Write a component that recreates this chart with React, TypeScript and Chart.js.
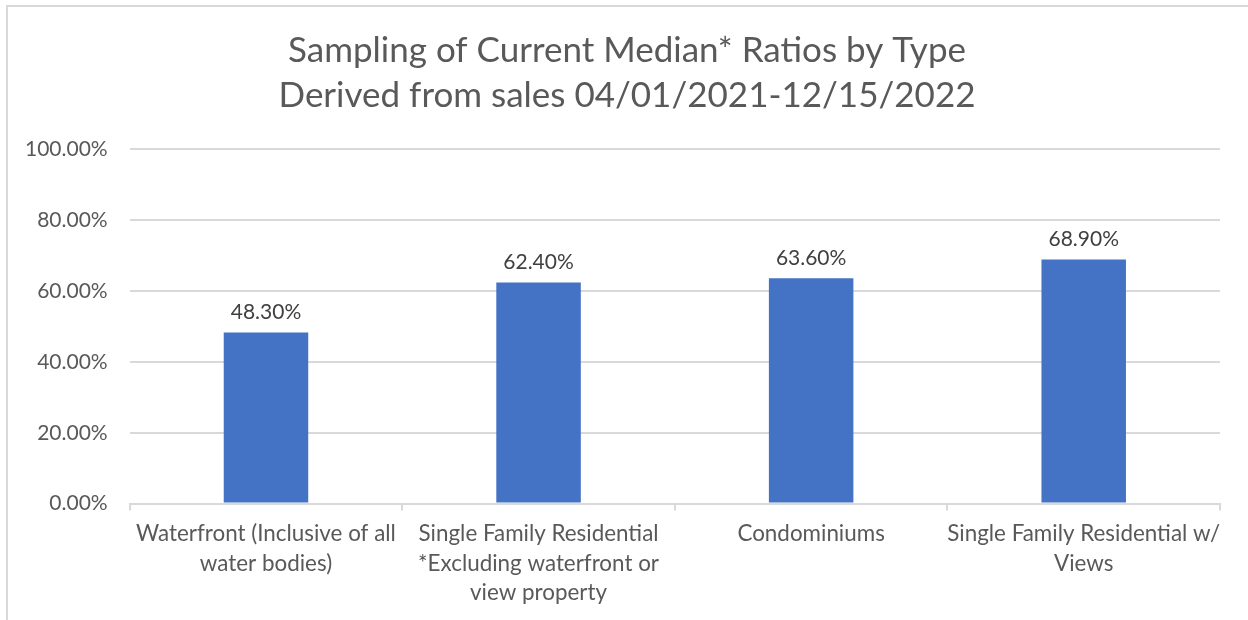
import React, { useEffect, useRef } from "react";
import { Chart, registerables } from "chart.js";

Chart.register(...registerables);

const titleLines = [
  "Sampling of Current Median* Ratios by Type",
  "Derived from sales 04/01/2021-12/15/2022",
];
const categories: (string | string[])[] = [
  ["Waterfront (Inclusive of all", "water bodies)"],
  ["Single Family Residential", "*Excluding waterfront or", "view property"],
  "Condominiums",
  ["Single Family Residential w/", "Views"],
];
const ratios = [48.3, 62.4, 63.6, 68.9];
const yMin = 0;
const yMax = 100;
const yStep = 20;

const FONT = "Lato, 'Open Sans', sans-serif";
const TITLE_SIZE = 35;
const TITLE_LH = 1.29;
const FRAME_LEFT = 6;

const dataLabelPlugin = {
  id: "dataLabels",
  afterDatasetsDraw(chart: any) {
    const ctx = chart.ctx;
    ctx.save();
    ctx.font = `21px ${FONT}`;
    ctx.fillStyle = "#404040";
    ctx.textAlign = "center";
    ctx.textBaseline = "bottom";
    chart.data.datasets.forEach((ds: any, di: number) => {
      const meta = chart.getDatasetMeta(di);
      meta.data.forEach((bar: any, i: number) => {
        const v = ds.data[i] as number;
        ctx.fillText(v.toFixed(2) + "%", bar.x, bar.y - 10);
      });
    });
    ctx.restore();
  },
};

// Title drawn centred on the framed box (the built-in title only reserves the space)
const frameTitlePlugin = {
  id: "frameTitle",
  afterDraw(chart: any) {
    const tb = chart.titleBlock;
    if (!tb) return;
    const ctx = chart.ctx;
    ctx.save();
    ctx.font = `${TITLE_SIZE}px ${FONT}`;
    ctx.fillStyle = "#595959";
    ctx.textAlign = "center";
    ctx.textBaseline = "middle";
    const lh = TITLE_SIZE * TITLE_LH;
    const cx = (chart.width + FRAME_LEFT) / 2;
    titleLines.forEach((t, i) => {
      ctx.fillText(t, cx, tb.top + lh * (i + 0.5));
    });
    ctx.restore();
  },
};

export default function App() {
  const ref = useRef<HTMLCanvasElement>(null);
  useEffect(() => {
    document.body.style.margin = "0";
    const chart = new Chart(ref.current!, {
      type: "bar",
      data: {
        labels: categories,
        datasets: [
          {
            data: ratios,
            backgroundColor: "#4472C4",
            barPercentage: 0.62,
            categoryPercentage: 0.5,
          },
        ],
      },
      options: {
        responsive: false,
        animation: false,
        layout: { padding: { left: 3, right: 28, top: 28, bottom: 4 } },
        plugins: {
          legend: { display: false },
          tooltip: { enabled: false },
          title: {
            display: true,
            text: titleLines,
            color: "rgba(0,0,0,0)",
            font: { family: FONT, size: TITLE_SIZE, weight: "normal", lineHeight: TITLE_LH },
            padding: { top: 0, bottom: 31 },
          },
        },
        scales: {
          x: {
            grid: {
              display: true,
              drawOnChartArea: false,
              drawTicks: true,
              tickLength: 7,
              color: "#d9d9d9",
              lineWidth: 2,
              offset: true,
            },
            border: { display: true, color: "#d9d9d9", width: 2 },
            ticks: {
              color: "#595959",
              font: { family: FONT, size: 22.4, lineHeight: 1.33 },
              padding: 8,
              maxRotation: 0,
              autoSkip: false,
            },
          },
          y: {
            min: yMin,
            max: yMax,
            grid: { color: "#d9d9d9", lineWidth: 2, drawTicks: false },
            border: { display: false },
            ticks: {
              stepSize: yStep,
              color: "#595959",
              font: { family: FONT, size: 21 },
              padding: 22,
              callback: (v: any) => Number(v).toFixed(2) + "%",
            },
          },
        },
      },
      plugins: [dataLabelPlugin, frameTitlePlugin],
    });
    return () => chart.destroy();
  }, []);
  return (
    <div style={{ position: "relative", width: 1248, height: 620, background: "#fff" }}>
      <div
        style={{
          position: "absolute",
          left: FRAME_LEFT,
          top: 5,
          right: 0,
          bottom: 0,
          borderLeft: "2px solid #d9d9d9",
          borderTop: "2px solid #d9d9d9",
        }}
      />
      <canvas ref={ref} width={1248} height={620} style={{ position: "absolute", left: 0, top: 0 }} />
    </div>
  );
}
